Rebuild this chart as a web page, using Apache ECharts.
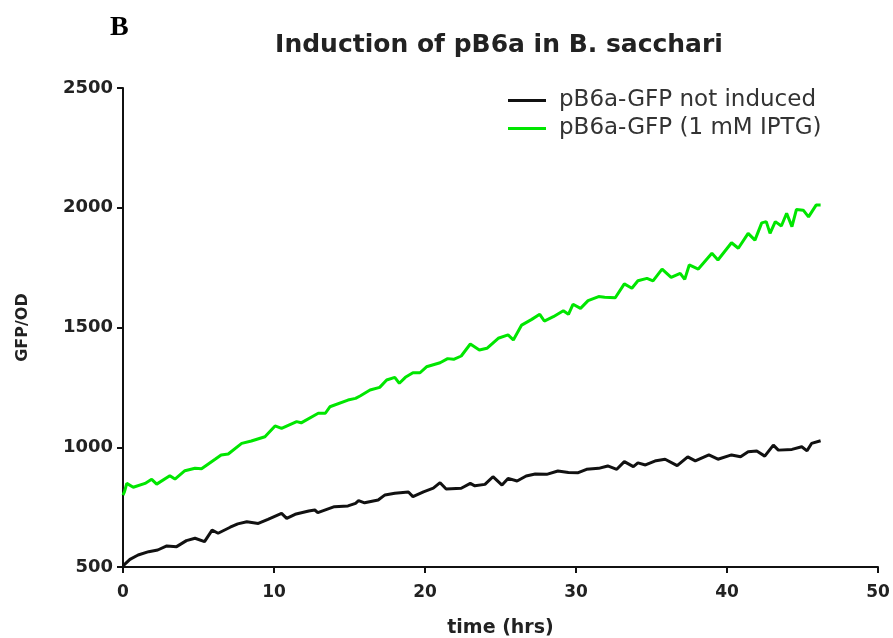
<!DOCTYPE html>
<html>
<head>
<meta charset="utf-8">
<script src="https://cdn.jsdelivr.net/npm/echarts@6/dist/echarts.min.js"></script>
<style>
html,body{margin:0;padding:0;background:#fff;}
#chart{width:893px;height:638px;}
</style>
</head>
<body>
<div id="chart"></div>
<script>
var titleText = "Induction of pB6a in B. sacchari";
var panelLabel = "B";
var xAxisName = "time (hrs)";
var yAxisName = "GFP/OD";
var seriesNames = ["pB6a-GFP not induced", "pB6a-GFP (1 mM IPTG)"];

var blackTime = [0, 0.1, 0.46, 1.0, 1.7, 2.3, 2.9, 3.55, 4.2, 4.77, 5.4, 5.9, 6.3, 7.1, 7.6, 8.2, 8.96, 9.6, 10.5, 10.84, 11.4, 12.3, 12.7, 12.9, 14.0, 14.9, 15.4, 15.6, 16.0, 16.9, 17.35, 18.0, 18.9, 19.2, 19.9, 20.55, 21.0, 21.4, 22.4, 23.0, 23.3, 23.97, 24.5, 25.1, 25.5, 26.1, 26.7, 27.3, 28.06, 28.8, 29.5, 30.15, 30.7, 31.5, 32.1, 32.7, 33.2, 33.8, 34.1, 34.6, 35.3, 35.9, 36.7, 37.4, 37.9, 38.8, 39.4, 40.3, 40.9, 41.4, 41.97, 42.5, 43.07, 43.4, 44.3, 44.95, 45.3, 45.6, 46.2];
var blackValues = [505, 510, 532, 550, 564, 571, 588, 585, 610, 620, 606, 654, 641, 666, 680, 689, 682, 699, 724, 703, 720, 734, 738, 727, 752, 755, 766, 777, 768, 780, 801, 808, 813, 794, 814, 829, 852, 826, 829, 849, 839, 845, 877, 842, 870, 859, 880, 888, 887, 901, 895, 894, 908, 912, 922, 908, 940, 919, 935, 926, 944, 950, 923, 960, 943, 968, 950, 968, 960, 981, 984, 963, 1009, 988, 991, 1002, 985, 1016, 1027];

var greenTime = [0, 0.1, 0.25, 0.68, 1.46, 1.9, 2.23, 3.1, 3.44, 4.1, 4.77, 5.2, 6.1, 6.5, 6.97, 7.86, 8.5, 9.4, 10.07, 10.5, 11.5, 11.8, 12.93, 13.4, 13.7, 14.9, 15.4, 15.7, 16.36, 17.0, 17.46, 18.0, 18.3, 18.7, 19.2, 19.67, 20.1, 21.0, 21.5, 21.9, 22.4, 23.0, 23.6, 24.1, 24.85, 25.5, 25.85, 26.4, 27.07, 27.6, 27.9, 28.5, 29.16, 29.5, 29.8, 30.3, 30.8, 31.5, 31.9, 32.6, 33.2, 33.7, 34.1, 34.7, 35.1, 35.7, 36.3, 36.9, 37.2, 37.5, 38.1, 39.0, 39.4, 40.3, 40.75, 41.4, 41.85, 42.3, 42.6, 42.85, 43.2, 43.6, 43.95, 44.3, 44.6, 45.05, 45.4, 45.9, 46.2];
var greenValues = [800, 815, 849, 833, 849, 866, 846, 881, 867, 902, 912, 910, 950, 968, 972, 1016, 1026, 1044, 1089, 1079, 1107, 1102, 1142, 1142, 1169, 1197, 1204, 1214, 1239, 1250, 1281, 1292, 1267, 1292, 1311, 1311, 1336, 1353, 1370, 1367, 1381, 1431, 1406, 1413, 1455, 1469, 1448, 1510, 1534, 1555, 1527, 1545, 1570, 1555, 1597, 1580, 1612, 1629, 1626, 1624, 1682, 1664, 1695, 1705, 1695, 1744, 1709, 1726, 1701, 1761, 1744, 1810, 1782, 1854, 1831, 1893, 1865, 1937, 1942, 1893, 1942, 1924, 1977, 1921, 1993, 1990, 1962, 2011, 2011];

var xTicks = {min: 0, max: 50, interval: 10};
var yTicks = {min: 500, max: 2500, interval: 500};

function pairs(xs, ys) {
  var out = [];
  for (var i = 0; i < xs.length; i++) out.push([xs[i], ys[i]]);
  return out;
}

var FONT = 'DejaVu Sans, Liberation Sans, Arial, sans-serif';
var chart = echarts.init(document.getElementById('chart'));
chart.setOption({
  animation: false,
  backgroundColor: '#fff',
  title: [
    {text: titleText, left: 494, top: 28, textAlign: 'center',
     textStyle: {fontFamily: FONT, fontWeight: 'bold', fontSize: 25, color: '#222'}},
    {text: panelLabel, left: 105, top: 9,
     textStyle: {fontFamily: 'Liberation Serif, Times New Roman, serif', fontWeight: 'bold', fontSize: 28, color: '#000'}}
  ],
  legend: {
    orient: 'vertical', left: 503, top: 84, itemWidth: 38, itemHeight: 3, itemGap: 5,
    icon: 'rect',
    textStyle: {fontFamily: FONT, fontSize: 23, color: '#333', padding: [0, 0, 0, 8]},
    data: seriesNames
  },
  grid: {left: 123, right: 15, top: 88, bottom: 71, containLabel: false, outerBoundsMode: 'none'},
  xAxis: {
    type: 'value', min: xTicks.min, max: xTicks.max, interval: xTicks.interval,
    name: xAxisName, nameLocation: 'middle', nameGap: 52,
    nameTextStyle: {fontFamily: FONT, fontWeight: 'bold', fontSize: 19, color: '#222'},
    axisLine: {lineStyle: {color: '#111', width: 2}},
    axisTick: {show: true, length: 6, lineStyle: {color: '#111', width: 2}},
    axisLabel: {margin: 17, fontFamily: FONT, fontWeight: 'bold', fontSize: 17, color: '#222'},
    splitLine: {show: false}
  },
  yAxis: {
    type: 'value', min: yTicks.min, max: yTicks.max, interval: yTicks.interval,
    name: yAxisName, nameLocation: 'middle', nameGap: 92, nameRotate: 90,
    nameTextStyle: {fontFamily: FONT, fontWeight: 'bold', fontSize: 16, color: '#222'},
    axisLine: {show: true, lineStyle: {color: '#111', width: 2}},
    axisTick: {show: true, length: 6, lineStyle: {color: '#111', width: 2}},
    axisLabel: {margin: 10, fontFamily: FONT, fontWeight: 'bold', fontSize: 18, color: '#222',
      formatter: function (v) { return String(v); }},
    splitLine: {show: false}
  },
  series: [
    {name: seriesNames[0], type: 'line', data: pairs(blackTime, blackValues), showSymbol: false,
     lineStyle: {color: '#111', width: 3}, itemStyle: {color: '#111'}},
    {name: seriesNames[1], type: 'line', data: pairs(greenTime, greenValues), showSymbol: false,
     lineStyle: {color: '#00e600', width: 3}, itemStyle: {color: '#00e600'}}
  ]
});
</script>
</body>
</html>
